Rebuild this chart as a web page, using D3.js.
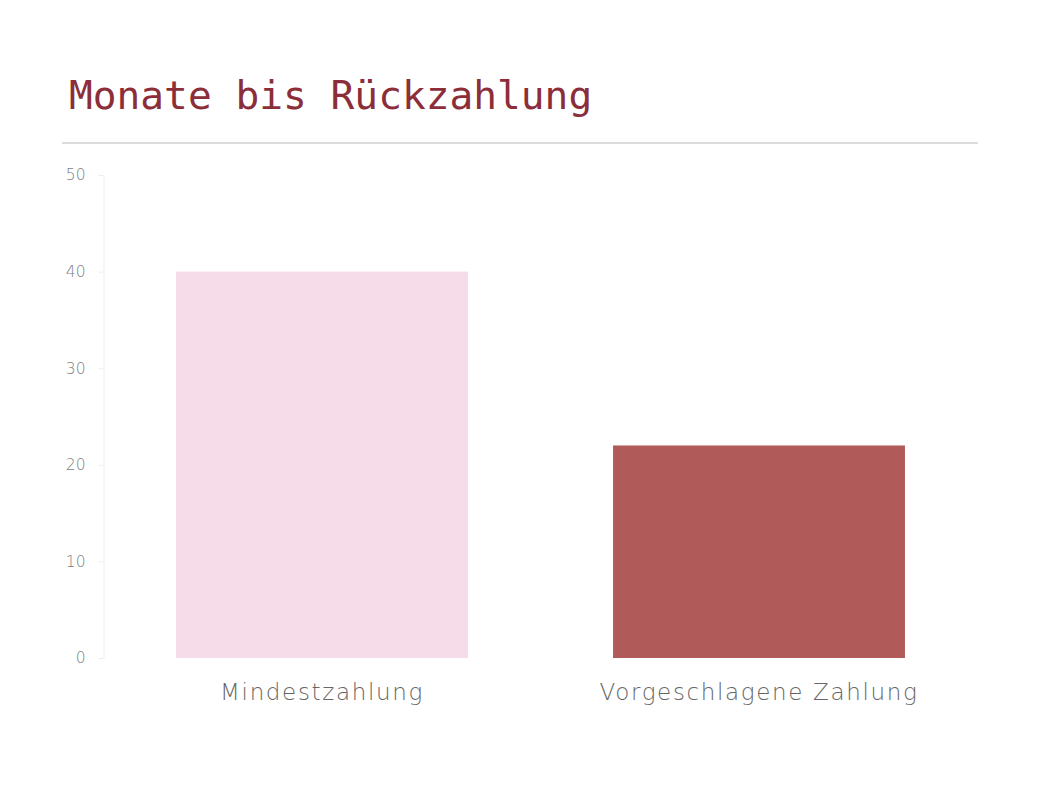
<!DOCTYPE html>
<html>
<head>
<meta charset="utf-8">
<script src="https://cdn.jsdelivr.net/npm/d3@7"></script>
<style>
  body { margin: 0; background: #ffffff; }
</style>
</head>
<body>
<div class="display"></div>
<script>
const WIDTH = 1038;
const HEIGHT = 800;

const TITLE = 'Monate bis Rückzahlung';
const CATEGORIES = ['Mindestzahlung', 'Vorgeschlagene Zahlung'];
const VALUES = [40, 22];
const BAR_COLORS = ['#f6dbe8', '#b05a5a'];
const Y_TICKS = [0, 10, 20, 30, 40, 50];

const PLOT = { left: 103.5, right: 977.5, top: 175, bottom: 658 };

const svg = d3.select('.display')
  .append('svg')
  .attr('width', WIDTH)
  .attr('height', HEIGHT);

// title + rule under it
svg.append('text')
  .attr('x', 69)
  .attr('y', 109)
  .attr('fill', '#8b2e3a')
  .style('font-family', '"DejaVu Sans Mono", "Liberation Mono", monospace')
  .style('font-size', '39.5px')
  .text(TITLE);

svg.append('line')
  .attr('x1', 62)
  .attr('x2', 978)
  .attr('y1', 143)
  .attr('y2', 143)
  .attr('stroke', '#dcdcdc')
  .attr('stroke-width', 2);

const x = d3.scaleBand()
  .domain(CATEGORIES)
  .range([PLOT.left, PLOT.right])
  .paddingInner(0.332)
  .paddingOuter(0.166);

const y = d3.scaleLinear()
  .domain([0, 50])
  .range([PLOT.bottom, PLOT.top]);

// y axis
const yAxis = svg.append('g')
  .attr('transform', `translate(${PLOT.left}, 0)`)
  .call(d3.axisLeft(y).tickValues(Y_TICKS).tickSize(5).tickPadding(13));

yAxis.select('.domain').attr('stroke', '#eeeeee');
yAxis.selectAll('.tick line').attr('stroke', '#eeeeee');
yAxis.selectAll('.tick text')
  .attr('fill', '#808080')
  .style('font-family', '"DejaVu Sans", sans-serif')
  .style('font-weight', 200)
  .style('font-size', '15.5px');

// bars
svg.selectAll('.bar')
  .data(VALUES)
  .enter()
  .append('rect')
  .attr('class', 'bar')
  .attr('x', (d, i) => x(CATEGORIES[i]))
  .attr('y', d => y(d))
  .attr('width', x.bandwidth())
  .attr('height', d => y(0) - y(d))
  .attr('fill', (d, i) => BAR_COLORS[i]);

// category labels
svg.selectAll('.cat')
  .data(CATEGORIES)
  .enter()
  .append('text')
  .attr('class', 'cat')
  .attr('x', d => x(d) + x.bandwidth() / 2)
  .attr('y', 700)
  .attr('text-anchor', 'middle')
  .attr('fill', '#666666')
  .style('font-family', '"DejaVu Sans", sans-serif')
  .style('font-weight', 200)
  .style('font-size', '23px')
  .style('letter-spacing', '1.65px')
  .text(d => d);
</script>
</body>
</html>
